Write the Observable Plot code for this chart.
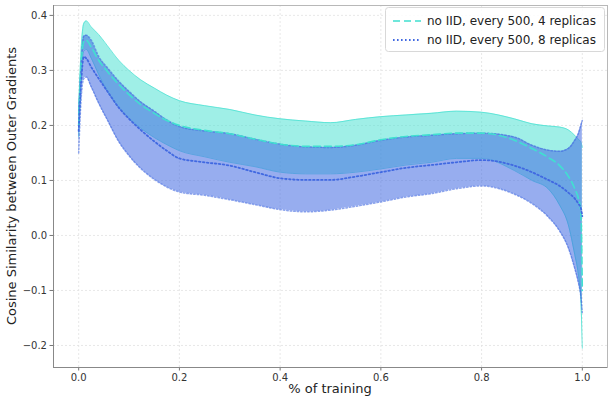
<!DOCTYPE html>
<html><head><meta charset="utf-8">
<script src="https://cdn.jsdelivr.net/npm/d3@7"></script>
<script src="https://cdn.jsdelivr.net/npm/@observablehq/plot@0.6"></script>
<style>body{margin:0;background:#fff;font-family:"DejaVu Sans",sans-serif}</style>
</head><body><div id="chart"></div>
<script>
const t     = [0, 0.005, 0.01, 0.015, 0.025, 0.04, 0.057, 0.08, 0.1, 0.123, 0.15, 0.175, 0.2, 0.25, 0.3, 0.35, 0.4, 0.45, 0.5, 0.55, 0.6, 0.65, 0.7, 0.75, 0.8, 0.865, 0.9, 0.932, 0.955, 0.972, 0.985, 0.992, 0.997, 1.0];
const aHigh = [0.23, 0.34, 0.385, 0.39, 0.379, 0.365, 0.345, 0.318, 0.3, 0.283, 0.268, 0.255, 0.245, 0.236, 0.229, 0.219, 0.212, 0.208, 0.205, 0.211, 0.216, 0.219, 0.222, 0.226, 0.224, 0.212, 0.203, 0.199, 0.197, 0.192, 0.182, 0.175, 0.17, 0.16];
const aMean = [0.2, 0.31, 0.352, 0.355, 0.342, 0.318, 0.298, 0.274, 0.256, 0.238, 0.222, 0.209, 0.2, 0.191, 0.185, 0.175, 0.166, 0.162, 0.162, 0.165, 0.174, 0.18, 0.183, 0.186, 0.186, 0.173, 0.158, 0.142, 0.127, 0.108, 0.085, 0.068, 0.045, -0.1];
const aLow  = [0.18, 0.29, 0.335, 0.338, 0.322, 0.292, 0.262, 0.232, 0.213, 0.195, 0.178, 0.165, 0.154, 0.143, 0.133, 0.125, 0.115, 0.112, 0.112, 0.115, 0.121, 0.128, 0.133, 0.14, 0.14, 0.118, 0.1, 0.085, 0.055, 0.02, -0.035, -0.07, -0.115, -0.205];
const bHigh = [0.22, 0.31, 0.362, 0.364, 0.355, 0.325, 0.305, 0.28, 0.262, 0.243, 0.226, 0.21, 0.198, 0.19, 0.185, 0.175, 0.166, 0.161, 0.16, 0.164, 0.173, 0.179, 0.182, 0.185, 0.186, 0.179, 0.164, 0.155, 0.153, 0.158, 0.173, 0.185, 0.2, 0.209];
const bMean = [0.19, 0.28, 0.325, 0.322, 0.306, 0.285, 0.262, 0.232, 0.212, 0.192, 0.171, 0.154, 0.14, 0.133, 0.127, 0.115, 0.104, 0.101, 0.101, 0.107, 0.115, 0.123, 0.128, 0.133, 0.137, 0.127, 0.115, 0.101, 0.09, 0.078, 0.067, 0.058, 0.05, 0.035];
const bLow  = [0.15, 0.25, 0.285, 0.288, 0.27, 0.24, 0.21, 0.17, 0.145, 0.122, 0.102, 0.088, 0.079, 0.073, 0.065, 0.056, 0.047, 0.043, 0.046, 0.053, 0.061, 0.07, 0.076, 0.085, 0.09, 0.075, 0.058, 0.034, 0.008, -0.022, -0.06, -0.085, -0.11, -0.14];
const seriesNames = ["no IID, every 500, 4 replicas", "no IID, every 500, 8 replicas"];
const xTicks = [0, 0.2, 0.4, 0.6, 0.8, 1.0];
const yTicks = [-0.2, -0.1, 0, 0.1, 0.2, 0.3, 0.4];

const rows = t.map((x, i) => ({t: x, aLow: aLow[i], aMean: aMean[i], aHigh: aHigh[i], bLow: bLow[i], bMean: bMean[i], bHigh: bHigh[i]}));
const TURQ = "#40E0D0", BLUE = "#4169E1";
const fmt = d => d3.format(".1f")(d).replace("-", "\u2212");
const curve = "monotone-x";

const plot = Plot.plot({
  width: 608, height: 398,
  marginLeft: 53, marginRight: 1, marginTop: 5, marginBottom: 31,
  style: {fontFamily: "DejaVu Sans, sans-serif", fontSize: "10px", color: "#333", background: "#fff"},
  x: {domain: [-0.05, 1.05], ticks: xTicks, tickFormat: fmt, label: null},
  y: {domain: [-0.24, 0.418], ticks: yTicks, tickFormat: fmt, label: null},
  marks: [
    Plot.gridX(xTicks, {stroke: "#e2e2e2", strokeOpacity: 1, strokeDasharray: "2,2", strokeWidth: 0.8}),
    Plot.gridY(yTicks, {stroke: "#e2e2e2", strokeOpacity: 1, strokeDasharray: "2,2", strokeWidth: 0.8}),
    Plot.areaY(rows, {x: "t", y1: "aLow", y2: "aHigh", fill: TURQ, fillOpacity: 0.5, curve}),
    Plot.lineY(rows, {x: "t", y: "aLow", stroke: TURQ, strokeOpacity: 0.7, strokeWidth: 1, curve}),
    Plot.lineY(rows, {x: "t", y: "aHigh", stroke: TURQ, strokeOpacity: 0.7, strokeWidth: 1, curve}),
    Plot.areaY(rows, {x: "t", y1: "bLow", y2: "bHigh", fill: BLUE, fillOpacity: 0.55, curve}),
    Plot.lineY(rows, {x: "t", y: "bLow", stroke: BLUE, strokeOpacity: 0.6, strokeWidth: 1.5, strokeDasharray: "1.5,2", curve}),
    Plot.lineY(rows, {x: "t", y: "bHigh", stroke: BLUE, strokeOpacity: 0.6, strokeWidth: 1.5, strokeDasharray: "1.5,2", curve}),
    Plot.lineY(rows, {x: "t", y: "aMean", stroke: TURQ, strokeWidth: 1.6, strokeDasharray: "7,4", curve}),
    Plot.lineY(rows, {x: "t", y: "bMean", stroke: BLUE, strokeWidth: 1.8, strokeDasharray: "1.6,2.4", curve}),
    Plot.frame({stroke: "#b8b8b8"}),
    Plot.axisX(xTicks, {tickSize: 3.5, tickPadding: 3, tickFormat: fmt, stroke: "#777", fill: "#333", fontSize: 10}),
    Plot.axisY(yTicks, {tickSize: 3.5, tickPadding: 3, tickFormat: fmt, stroke: "#777", fill: "#333", fontSize: 10}),
    Plot.ruleX([-0.05], {stroke: "#888"}),
    Plot.ruleY([-0.24], {stroke: "#888"})
  ]
});
document.getElementById("chart").appendChild(plot);

const svg = d3.select(plot);
svg.append("text").attr("x", 330).attr("y", 393).attr("text-anchor", "middle")
  .attr("font-size", 13).attr("fill", "#222").text("% of training");
svg.append("text").attr("transform", "translate(16,186) rotate(-90)").attr("text-anchor", "middle")
  .attr("font-size", 13).attr("fill", "#222").text("Cosine Similarity between Outer Gradients");

const lg = svg.append("g");
lg.append("rect").attr("x", 385.5).attr("y", 7.5).attr("width", 219).attr("height", 44).attr("rx", 3)
  .attr("fill", "#fff").attr("fill-opacity", 0.85).attr("stroke", "#d8d8d8");
const styles = [{c: TURQ, d: "7,4", w: 1.6}, {c: BLUE, d: "1.6,2.4", w: 1.8}];
seriesNames.forEach((name, i) => {
  const y = 21 + i * 19;
  lg.append("line").attr("x1", 393).attr("x2", 421).attr("y1", y).attr("y2", y)
    .attr("stroke", styles[i].c).attr("stroke-width", styles[i].w).attr("stroke-dasharray", styles[i].d);
  lg.append("text").attr("x", 427).attr("y", y + 4).attr("text-anchor", "start")
    .attr("font-size", 12).attr("fill", "#222").text(name);
});
</script></body></html>
